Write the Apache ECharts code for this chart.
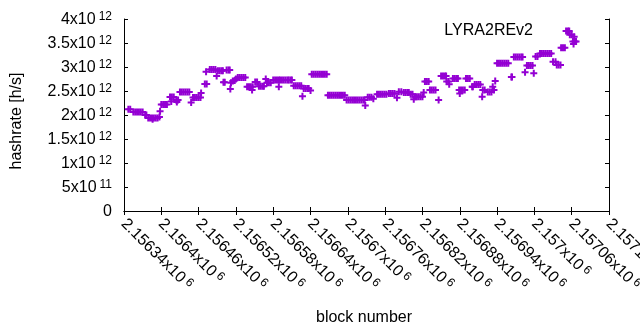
<!DOCTYPE html>
<html>
<head>
<meta charset="utf-8">
<script src="https://cdn.jsdelivr.net/npm/echarts@6/dist/echarts.min.js"></script>
<style>
  html, body { margin: 0; padding: 0; background: #fff; }
  #chart { width: 640px; height: 330px; }
</style>
</head>
<body>
<div id="chart"></div>
<script>
// block numbers
var blocks = [
  2156347, 2156350,
  2156355, 2156358, 2156361, 2156364, 2156367, 2156370,
  2156374, 2156376,
  2156379, 2156382, 2156385, 2156388, 2156391, 2156394, 2156386,
  2156397, 2156398,
  2156400, 2156403, 2156406, 2156409,
  2156416,
  2156414, 2156417, 2156420,
  2156425,
  2156424, 2156427,
  2156430, 2156433, 2156436, 2156439, 2156442, 2156445,
  2156448,
  2156451, 2156454, 2156457, 2156460, 2156463,
  2156464,
  2156470, 2156473,
  2156472,
  2156478, 2156481, 2156484, 2156487,
  2156491, 2156494, 2156497, 2156499,
  2156489,
  2156500, 2156502,
  2156505, 2156508, 2156510,
  2156512, 2156511,
  2156515, 2156518, 2156520,
  2156523, 2156526, 2156529, 2156532, 2156535,
  2156538, 2156541, 2156544, 2156547,
  2156546,
  2156551, 2156554,
  2156557, 2156560, 2156563, 2156565,
  2156568,
  2156570, 2156573, 2156576,
  2156580, 2156583, 2156586, 2156589,
  2156589,
  2156591, 2156594, 2156597, 2156600, 2156603, 2156605, 2156608, 2156610,
  2156613, 2156616, 2156619, 2156622, 2156625,
  2156627,
  2156629, 2156632, 2156635, 2156637,
  2156640,
  2156642, 2156645, 2156648, 2156651, 2156654, 2156657, 2156660, 2156663, 2156666,
  2156668, 2156671, 2156674, 2156677, 2156680, 2156683, 2156686, 2156689, 2156692, 2156695,
  2156698, 2156701, 2156704, 2156707, 2156710, 2156713, 2156716, 2156719, 2156722, 2156725, 2156727,
  2156728,
  2156732, 2156735, 2156738, 2156741,
  2156747, 2156750, 2156753, 2156756, 2156759, 2156762,
  2156766, 2156769, 2156772, 2156775,
  2156779,
  2156782, 2156786,
  2156790, 2156793, 2156796, 2156798,
  2156801, 2156804,
  2156806,
  2156808, 2156811, 2156814, 2156817, 2156820,
  2156822,
  2156824, 2156827, 2156830,
  2156832, 2156835, 2156838, 2156841,
  2156846,
  2156850, 2156853, 2156856, 2156858,
  2156859, 2156862, 2156863,
  2156869, 2156872, 2156875, 2156877,
  2156890, 2156893, 2156896,
  2156879, 2156882, 2156885, 2156888,
  2156880,
  2156900, 2156901,
  2156904, 2156907, 2156910, 2156913,
  2156916,
  2156917, 2156920,
  2156925, 2156928, 2156931,
  2156933, 2156935,
  2156937,
  2156940, 2156943, 2156946, 2156949, 2156952, 2156955, 2156958,
  2156963, 2156964,
  2156967, 2156970, 2156973, 2156976, 2156979, 2156981,
  2156985,
  2156988, 2156991, 2156994, 2156997,
  2156999,
  2157002, 2157005,
  2157009, 2157012, 2157015, 2157018, 2157021, 2157024, 2157027,
  2157030, 2157034,
  2157036, 2157039, 2157042,
  2157043, 2157046, 2157049,
  2157051, 2157054, 2157056,
  2157057, 2157060,
  2157064,
  2157062, 2157065, 2157067, 2157063
];

// hashrate in units of 10^12 h/s, same order as blocks
var hashrateTH = [
  2.12, 2.12,
  2.06, 2.06, 2.06, 2.06, 2.06, 2.06,
  2.00, 2.00,
  1.94, 1.94, 1.94, 1.94, 1.94, 1.94, 1.91,
  1.96, 2.08,
  2.22, 2.22, 2.22, 2.22,
  2.28,
  2.375, 2.375, 2.375,
  2.27,
  2.31, 2.31,
  2.48, 2.48, 2.48, 2.48, 2.48, 2.48,
  2.26,
  2.365, 2.365, 2.365, 2.365, 2.365,
  2.46,
  2.645, 2.645,
  2.90,
  2.95, 2.95, 2.95, 2.95,
  2.92, 2.92, 2.92, 2.92,
  2.81,
  2.68, 2.68,
  2.94, 2.94, 2.94,
  2.67, 2.54,
  2.71, 2.72, 2.75,
  2.78, 2.78, 2.78, 2.78, 2.78,
  2.59, 2.59, 2.59, 2.59,
  2.52,
  2.69, 2.69,
  2.60, 2.60, 2.60, 2.60,
  2.75,
  2.67, 2.67, 2.67,
  2.73, 2.73, 2.73, 2.73,
  2.59,
  2.73, 2.73, 2.73, 2.73, 2.73, 2.73, 2.73, 2.73,
  2.61, 2.61, 2.61, 2.61, 2.61,
  2.39,
  2.55, 2.55, 2.55, 2.55,
  2.51,
  2.85, 2.85, 2.85, 2.85, 2.85, 2.85, 2.85, 2.85, 2.85,
  2.41, 2.41, 2.41, 2.41, 2.41, 2.41, 2.41, 2.41, 2.41, 2.41,
  2.31, 2.31, 2.31, 2.31, 2.31, 2.31, 2.31, 2.31, 2.31, 2.31, 2.31,
  2.20,
  2.37, 2.37, 2.37, 2.34,
  2.43, 2.43, 2.43, 2.43, 2.43, 2.43,
  2.45, 2.45, 2.45, 2.45,
  2.36,
  2.485, 2.485,
  2.47, 2.47, 2.47, 2.47,
  2.43, 2.43,
  2.33,
  2.38, 2.38, 2.38, 2.38, 2.38,
  2.47,
  2.70, 2.70, 2.70,
  2.52, 2.52, 2.52, 2.52,
  2.31,
  2.81, 2.81, 2.81, 2.81,
  2.70, 2.70, 2.64,
  2.76, 2.76, 2.76, 2.76,
  2.76, 2.76, 2.76,
  2.52, 2.52, 2.52, 2.52,
  2.45,
  2.59, 2.59,
  2.635, 2.635, 2.635, 2.635,
  2.38,
  2.52, 2.52,
  2.48, 2.48, 2.48,
  2.59, 2.52,
  2.71,
  3.08, 3.08, 3.08, 3.08, 3.08, 3.08, 3.08,
  2.79, 2.79,
  3.21, 3.21, 3.21, 3.21, 3.21, 3.21,
  2.89,
  3.03, 3.03, 3.03, 3.03,
  2.87,
  3.22, 3.22,
  3.28, 3.28, 3.28, 3.28, 3.28, 3.28, 3.28,
  3.11, 3.11,
  3.04, 3.04, 3.04,
  3.40, 3.40, 3.40,
  3.75, 3.75, 3.75,
  3.67, 3.67,
  3.63,
  3.53, 3.53, 3.53, 3.48
];

var seriesName = 'LYRA2REv2';
var xMin = 2156340, xMax = 2157120, xStep = 60;
var yMin = 0, yMax = 4e12, yStep = 5e11;

var FONT = '"Liberation Sans", Arial, sans-serif';
var COLOR = '#9400d3';

var points = blocks.map(function (b, i) { return [b, hashrateTH[i] * 1e12]; });

// "2.5x10^12" style labels, exponent as superscript
function sci(v, scale) {
    if (v === 0) return '{m|0}';
    var exp = scale != null ? scale : Math.floor(Math.log10(v) + 1e-9);
    var man = parseFloat((v / Math.pow(10, exp)).toFixed(6));
    return '{m|' + man + 'x10}{e|' + exp + '}';
}

var rich = {
    m: { fontSize: 16, fontFamily: FONT, color: '#000', lineHeight: 17, verticalAlign: 'bottom' },
    e: { fontSize: 12, fontFamily: FONT, color: '#000', lineHeight: 12, verticalAlign: 'top', padding: [0, 0, 7, 3] }
};

var tickStyle = { show: true, inside: true, length: 4, lineStyle: { color: '#000', width: 1 } };
var lineStyle = { show: true, lineStyle: { color: '#000', width: 1 } };

var myChart = echarts.init(document.getElementById('chart'), null, { renderer: 'canvas' });

var option = {
    animation: false,
    backgroundColor: '#fff',
    grid: { left: 124, right: 31, top: 19, bottom: 119, outerBoundsMode: 'none', containLabel: false },
    xAxis: [
        {
            type: 'value', min: xMin, max: xMax, interval: xStep,
            axisLine: lineStyle, axisTick: tickStyle, splitLine: { show: false },
            axisLabel: {
                rotate: -45, margin: 10, showMinLabel: true, showMaxLabel: true,
                formatter: function (v) { return sci(v, 6); },
                rich: rich
            }
        },
        {
            type: 'value', position: 'top', min: xMin, max: xMax, interval: xStep,
            axisLine: lineStyle, axisTick: tickStyle, splitLine: { show: false },
            axisLabel: { show: false }
        }
    ],
    yAxis: [
        {
            type: 'value', min: yMin, max: yMax, interval: yStep,
            axisLine: lineStyle, axisTick: tickStyle, splitLine: { show: false },
            axisLabel: {
                margin: 12,
                formatter: function (v) { return sci(v); },
                rich: rich
            }
        },
        {
            type: 'value', position: 'right', min: yMin, max: yMax, interval: yStep,
            axisLine: lineStyle, axisTick: tickStyle, splitLine: { show: false },
            axisLabel: { show: false }
        }
    ],
    graphic: [
        {
            type: 'text', x: 17, y: 121, rotation: Math.PI / 2,
            style: { text: 'hashrate [h/s]', fontSize: 16, fontFamily: FONT, fill: '#000', align: 'center', verticalAlign: 'middle' }
        },
        {
            type: 'text', x: 364, y: 318,
            style: { text: 'block number', fontSize: 16, fontFamily: FONT, fill: '#000', align: 'center', verticalAlign: 'middle' }
        },
        {
            type: 'text', x: 533, y: 31,
            style: { text: seriesName, fontSize: 16, fontFamily: FONT, fill: '#000', align: 'right', verticalAlign: 'middle' }
        }
    ],
    series: [
        {
            name: seriesName,
            type: 'scatter',
            symbol: 'path://M2.5,0H4.5V2.5H7V4.5H4.5V7H2.5V4.5H0V2.5H2.5Z',
            symbolSize: 7,
            itemStyle: { color: COLOR, opacity: 1 },
            emphasis: { disabled: true },
            data: points
        }
    ]
};

myChart.setOption(option);
</script>
</body>
</html>
